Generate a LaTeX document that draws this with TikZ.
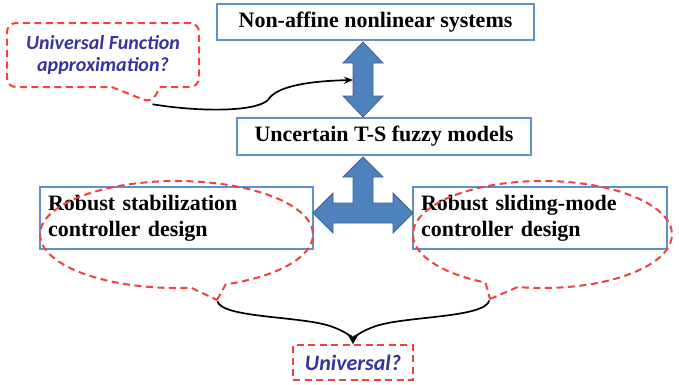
\documentclass[tikz,border=0pt]{standalone}
\usepackage{fontspec}
\setmainfont{Liberation Serif}
\newfontfamily\calibri{Carlito}
\usepackage{xcolor}
\usetikzlibrary{shapes.callouts,arrows.meta}

\definecolor{boxblue}{RGB}{95,145,205}
\definecolor{fillblue}{RGB}{79,129,189}
\definecolor{edgeblue}{RGB}{60,100,150}
\definecolor{dashred}{RGB}{240,65,60}
\definecolor{textblue}{RGB}{55,50,160}

\begin{document}
\begin{tikzpicture}[x=1pt, y=-1pt,
    box/.style={draw=boxblue, line width=1.8pt, rectangle, fill=white, font=\fontsize{22}{26}\selectfont\bfseries},
    bubble/.style={draw=dashred, line width=2pt, dash pattern=on 7pt off 4.5pt},
    ask/.style={text=textblue, font=\calibri\fontsize{20}{22}\selectfont\bfseries\itshape},
    arrow/.style={-{Stealth[length=9pt,width=7pt]}, line width=1.7pt},
    fat/.style={fill=fillblue, draw=edgeblue, line width=0.8pt}
  ]
    \useasboundingbox (0,0) rectangle (679,384);

    % Nodes
    \node[box, minimum width=317pt, minimum height=36pt] (plant) at (375.5,22) {Non-affine nonlinear systems};
    \node[box, minimum width=294pt, minimum height=37pt] (ts) at (384,136.5) {Uncertain T-S fuzzy models};
    \node[box, text width=257pt, align=left, inner sep=8pt, minimum height=62pt] (stab) at (176.5,218) {Robust stabilization\\controller design};
    \node[box, text width=238pt, align=left, inner sep=8pt, minimum height=62pt] (smc) at (540,218) {Robust sliding-mode\\controller design};

    % Block arrows
    \draw[fat] (363,42) -- (383,63) -- (373,63) -- (373,96) -- (383,96) -- (363,117)
      -- (343,96) -- (353,96) -- (353,63) -- (343,63) -- cycle;
    \draw[fat] (363,157) -- (383,177) -- (373,177) -- (373,203) -- (393,203) -- (393,193)
      -- (413,213) -- (393,233) -- (393,223) -- (333,223) -- (333,233) -- (313,213)
      -- (333,193) -- (333,203) -- (353,203) -- (353,177) -- (343,177) -- cycle;
    \coordinate (dblw) at (353,80);

    % Questions
    \node[bubble, rectangle callout, rounded corners=9pt, callout absolute pointer={(152,103)},
      callout pointer width=48pt, minimum width=192pt, minimum height=64pt, align=center, ask]
      (ufa) at (103,55) {Universal Function\\approximation?};
    \node[bubble, ellipse callout, minimum width=273pt, minimum height=107pt,
      callout absolute pointer={(217,300)}] (stabq) at (176.5,234.5) {};
    \node[bubble, ellipse callout, minimum width=259pt, minimum height=107pt,
      callout absolute pointer={(490,299)}] (smcq) at (542.5,234.5) {};
    \node[bubble, rectangle, minimum width=120pt, minimum height=35pt, ask,
      font=\calibri\fontsize{22}{24}\selectfont\bfseries\itshape] (univ) at (353,362.5) {Universal?};

    % Connectors
    \draw[arrow] (ufa.pointer) .. controls (200,112) and (255,112) .. (268,100)
      .. controls (276,86) and (310,81) .. (dblw);
    \draw[arrow] (stabq.pointer) .. controls (222,318) and (300,316) .. (330,326)
      .. controls (345,331) and (352,337) .. (univ.north);
    \draw[arrow] (smcq.pointer) .. controls (485,318) and (406,316) .. (376,326)
      .. controls (361,331) and (354,337) .. (univ.north);
  \end{tikzpicture}
\end{document}
